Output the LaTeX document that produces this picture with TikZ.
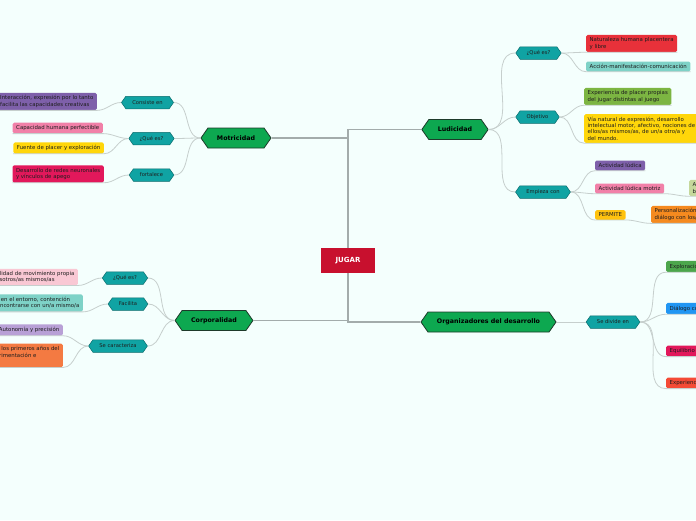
\documentclass[tikz,border=0pt]{standalone}
\usepackage{fontspec}
\setmainfont{DejaVu Sans}
\usetikzlibrary{shapes.symbols}

\definecolor{fondo}{HTML}{F4FFFD}
\definecolor{rojojugar}{HTML}{C8102E}
\definecolor{verdetema}{HTML}{0DA850}
\definecolor{bordetema}{HTML}{1D3A2A}
\definecolor{turquesa}{HTML}{10A3A3}
\definecolor{bordeturquesa}{HTML}{0A6C6C}
\definecolor{gris}{HTML}{C6CFCD}
\definecolor{grisoscuro}{HTML}{A3ACAB}
\definecolor{texto}{HTML}{1E1E1E}

\tikzset{
  central/.style={rectangle, fill=rojojugar, text=white, minimum width=54pt, minimum height=25pt, font=\fontsize{7}{8}\selectfont\bfseries},
  tema/.style={signal, signal to=west and east, signal pointer angle=110, draw=bordetema, line width=0.8pt, fill=verdetema, text=black, inner xsep=9pt, inner ysep=0pt, minimum height=20pt, font=\fontsize{6.3}{7}\selectfont\bfseries},
  subtema/.style={signal, signal to=west and east, signal pointer angle=110, draw=bordeturquesa, line width=0.5pt, fill=turquesa, text=texto, inner xsep=6.5pt, inner ysep=0pt, minimum height=12.5pt, font=\fontsize{5.2}{6}\selectfont},
  hoja/.style={rectangle, rounded corners=1.5pt, inner xsep=3.5pt, inner ysep=2.8pt, align=left, text=texto, font=\fontsize{5.4}{6.3}\selectfont},
  rama/.style={draw=gris, line width=0.8pt},
  tronco/.style={draw=grisoscuro, line width=1.4pt},
}

\begin{document}
\begin{tikzpicture}[x=1pt, y=-1pt]
\useasboundingbox (0,0) rectangle (696,520);
\clip (0,0) rectangle (696,520);
\fill[fondo] (0,0) rectangle (696,520);

\node (jugar) [central] at (348,260.5) {JUGAR};

\node (ludicidad) [tema] at (455,129.5) {Ludicidad};
\node (motricidad) [tema] at (236,138) {Motricidad};
\node (corporalidad) [tema] at (214,320.5) {Corporalidad};
\node (organizadores) [tema] at (488.5,322) {Organizadores del desarrollo};

% Ludicidad
\node (ludQue) [subtema] at (538.5,53) {¿Qué es?};
\node (ludObjetivo) [subtema] at (537.5,117) {Objetivo};
\node (ludEmpieza) [subtema] at (543,192) {Empieza con};

\node (naturaleza) [hoja, fill={rgb,255:red,232;green,49;blue,58}, anchor=west] at (586,43.5) {Naturaleza humana placentera\\y libre};
\node (accion) [hoja, fill={rgb,255:red,126;green,210;blue,199}, anchor=west] at (586,66.5) {Acción-manifestación-comunicación};
\node (experiencia) [hoja, fill={rgb,255:red,124;green,181;blue,66}, anchor=west] at (584,96.5) {Experiencia de placer propias\\del jugar distintas al juego};
\node (via) [hoja, fill={rgb,255:red,255;green,214;blue,10}, anchor=west] at (584,128.5) {Vía natural de expresión, desarrollo\\intelectual motor, afectivo, nociones de\\ellos/as mismos/as, de un/a otro/a y\\del mundo.};
\node (actividad) [hoja, fill={rgb,255:red,126;green,96;blue,170}, anchor=west] at (595,165.5) {Actividad lúdica};
\node (actMotriz) [hoja, fill={rgb,255:red,241;green,128;blue,168}, anchor=west] at (595,188.5) {Actividad lúdica motriz};
\node (permite) [hoja, fill={rgb,255:red,255;green,194;blue,14}, anchor=west] at (595,215) {PERMITE};
\node (aprendizaje) [hoja, fill={rgb,255:red,197;green,216;blue,155}, anchor=west] at (689,188) {Aprendizaje y\\bienestar};
\node (personal) [hoja, fill={rgb,255:red,245;green,138;blue,31}, anchor=west] at (651,214.5) {Personalización y\\diálogo con los/as otros/as};

% Motricidad
\node (motConsiste) [subtema] at (147.5,102.5) {Consiste en};
\node (motQue) [subtema] at (151.5,138.5) {¿Qué es?};
\node (motFortalece) [subtema] at (151.5,175) {fortalece};

\node (interaccion) [hoja, fill={rgb,255:red,126;green,96;blue,170}, anchor=east] at (97,101.5) {Interacción, expresión por lo tanto\\facilita las capacidades creativas};
\node (capacidad) [hoja, fill={rgb,255:red,241;green,128;blue,168}, anchor=east] at (103,128) {Capacidad humana perfectible};
\node (fuente) [hoja, fill={rgb,255:red,255;green,214;blue,10}, anchor=east] at (104,148) {Fuente de placer y exploración};
\node (redes) [hoja, fill={rgb,255:red,226;green,24;blue,91}, anchor=east] at (104,174) {Desarrollo de redes neuronales\\y vínculos de apego};

% Corporalidad
\node (corQue) [subtema] at (125,278) {¿Qué es?};
\node (corFacilita) [subtema] at (128,304) {Facilita};
\node (corCaracteriza) [subtema] at (118,346) {Se caracteriza};

\node (movimiento) [hoja, fill={rgb,255:red,249;green,200;blue,212}, anchor=east] at (78,277) {Posibilidad de movimiento propia\\de nosotros/as mismos/as};
\node (entorno) [hoja, fill={rgb,255:red,126;green,210;blue,199}, anchor=east] at (83,303) {Estar en el entorno, contención\\y al encontrarse con un/a mismo/a};
\node (autonomia) [hoja, fill={rgb,255:red,184;green,160;blue,214}, anchor=east] at (63,330) {Autonomía y precisión};
\node (primeros) [hoja, fill={rgb,255:red,244;green,122;blue,66}, anchor=east] at (63,355.5) {Ya durante los primeros años del\\de la experimentación e\\juego};

% Organizadores del desarrollo
\node (orgDivide) [subtema] at (613,322) {Se divide en};

\node (exploracion) [hoja, fill={rgb,255:red,76;green,166;blue,76}, anchor=west] at (666,266.5) {Exploración};
\node (dialogo) [hoja, fill={rgb,255:red,33;green,150;blue,243}, anchor=west] at (666,308.5) {Diálogo corporal};
\node (equilibrio) [hoja, fill={rgb,255:red,226;green,24;blue,91}, anchor=west] at (666,351) {Equilibrio};
\node (vivencias) [hoja, fill={rgb,255:red,244;green,75;blue,54}, anchor=west] at (666,383) {Experiencias};

% tronco
\draw[tronco] (jugar.north) |- (ludicidad.west);
\draw[tronco] (jugar.north) |- (motricidad.east);
\draw[tronco] (jugar.south) |- (organizadores.west);
\draw[tronco] (jugar.south) |- (corporalidad.east);

% ramas
\draw[rama] (ludicidad.east) to[out=0,in=180] (ludQue.west);
\draw[rama] (ludicidad.east) to[out=0,in=180] (ludObjetivo.west);
\draw[rama] (ludicidad.east) to[out=0,in=180] (ludEmpieza.west);
\draw[rama] (ludQue.east) to[out=0,in=180] (naturaleza.south west) -- (naturaleza.south east);
\draw[rama] (ludQue.east) to[out=0,in=180] (accion.south west) -- (accion.south east);
\draw[rama] (ludObjetivo.east) to[out=0,in=180] (experiencia.south west) -- (experiencia.south east);
\draw[rama] (ludObjetivo.east) to[out=0,in=180] (via.south west) -- (via.south east);
\draw[rama] (ludEmpieza.east) to[out=0,in=180] (actividad.south west) -- (actividad.south east);
\draw[rama] (ludEmpieza.east) to[out=0,in=180] (actMotriz.south west) -- (actMotriz.south east);
\draw[rama] (ludEmpieza.east) to[out=0,in=180] (permite.south west) -- (permite.south east);
\draw[rama] (actMotriz.south east) to[out=0,in=180] (aprendizaje.south west) -- (aprendizaje.south east);
\draw[rama] (permite.south east) to[out=0,in=180] (personal.south west) -- (personal.south east);

\draw[rama] (motricidad.west) to[out=180,in=0] (motConsiste.east);
\draw[rama] (motricidad.west) to[out=180,in=0] (motQue.east);
\draw[rama] (motricidad.west) to[out=180,in=0] (motFortalece.east);
\draw[rama] (motConsiste.west) to[out=180,in=0] (interaccion.south east) -- (interaccion.south west);
\draw[rama] (motQue.west) to[out=180,in=0] (capacidad.south east) -- (capacidad.south west);
\draw[rama] (motQue.west) to[out=180,in=0] (fuente.south east) -- (fuente.south west);
\draw[rama] (motFortalece.west) to[out=180,in=0] (redes.south east) -- (redes.south west);

\draw[rama] (corporalidad.west) to[out=180,in=0] (corQue.east);
\draw[rama] (corporalidad.west) to[out=180,in=0] (corFacilita.east);
\draw[rama] (corporalidad.west) to[out=180,in=0] (corCaracteriza.east);
\draw[rama] (corQue.west) to[out=180,in=0] (movimiento.south east) -- (movimiento.south west);
\draw[rama] (corFacilita.west) to[out=180,in=0] (entorno.south east) -- (entorno.south west);
\draw[rama] (corCaracteriza.west) to[out=180,in=0] (autonomia.south east) -- (autonomia.south west);
\draw[rama] (corCaracteriza.west) to[out=180,in=0] (primeros.south east) -- (primeros.south west);

\draw[rama] (organizadores.east) -- (orgDivide.west);
\draw[rama] (orgDivide.east) to[out=0,in=180] (exploracion.south west) -- (exploracion.south east);
\draw[rama] (orgDivide.east) to[out=0,in=180] (dialogo.south west) -- (dialogo.south east);
\draw[rama] (orgDivide.east) to[out=0,in=180] (equilibrio.south west) -- (equilibrio.south east);
\draw[rama] (orgDivide.east) to[out=0,in=180] (vivencias.south west) -- (vivencias.south east);
\end{tikzpicture}
\end{document}
